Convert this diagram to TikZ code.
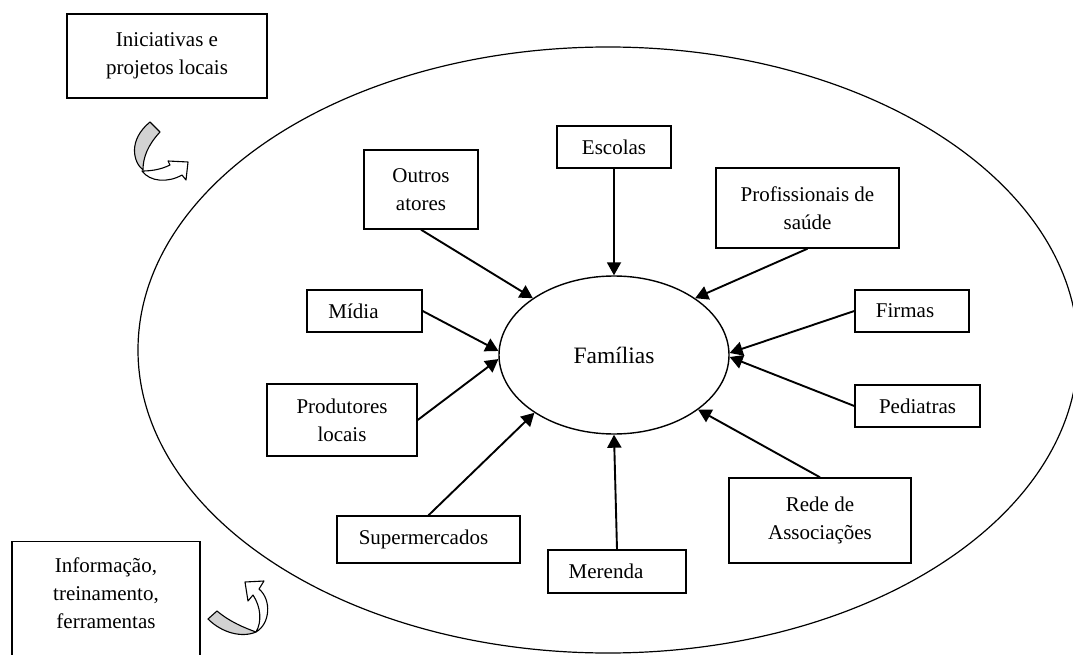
\documentclass[tikz,border=0pt]{standalone}
\usepackage{fontspec}
\setmainfont{Liberation Serif}
\usetikzlibrary{arrows.meta,shapes.geometric}
\begin{document}
\begin{tikzpicture}[x=1pt,y=-1pt,
  every node/.style={font=\fontsize{21}{28}\selectfont},
  box/.style={draw,line width=1.4pt,inner sep=0pt,align=center},
  hub/.style={draw,ellipse,line width=1.4pt,inner sep=0pt,font=\fontsize{23.5}{28}\selectfont},
  link/.style={line width=1.9pt,-{Triangle[length=13pt,width=14pt]}},
  band/.style={draw,line width=1.1pt,line join=round,fill=gray!35},
  shaft/.style={draw,line width=1.1pt,line join=round,fill=white}]
\useasboundingbox (0,0) rectangle (1073,655);

% outer boundary
\draw[line width=1.2pt] (608,350) ellipse [x radius=470pt, y radius=303pt];

% central node
\node[hub, minimum width=230pt, minimum height=158pt] (fam) at (614,355) {Famílias};

% actors
\node[box, minimum width=200pt, minimum height=84pt] (init) at (167,56) {Iniciativas e\\projetos locais};
\node[box, minimum width=188pt, minimum height=131pt, anchor=north] (info) at (106,541) {Informação,\\treinamento,\\ferramentas\\\mbox{}};
\node[box, minimum width=114pt, minimum height=79pt] (outros) at (421,189.5) {Outros\\atores};
\node[box, minimum width=114pt, minimum height=42pt] (escolas) at (614,147) {Escolas};
\node[box, minimum width=183pt, minimum height=80pt] (prof) at (807.5,208) {Profissionais de\\saúde};
\node[box, minimum width=115pt, minimum height=42pt] (midia) at (364.5,311) {\hspace*{-22pt}Mídia};
\node[box, minimum width=150pt, minimum height=72pt] (prod) at (342,420) {Produtores\\locais};
\node[box, minimum width=114pt, minimum height=42pt] (firmas) at (912,311) {\hspace*{-14pt}Firmas};
\node[box, minimum width=125pt, minimum height=42pt] (pedi) at (917.5,406) {Pediatras};
\node[box, minimum width=182pt, minimum height=85pt] (rede) at (820,520.5) {Rede de\\Associações};
\node[box, minimum width=183pt, minimum height=47pt] (super) at (428.5,539.5) {\hspace*{-10pt}Supermercados};
\node[box, minimum width=138pt, minimum height=43pt] (merenda) at (617,571.5) {\hspace*{-22pt}Merenda};

% influences on the families
\draw[link] (outros.south) -- (fam.145);
\draw[link] (escolas.south) -- (fam.north);
\draw[link] (prof.south) -- (fam.35);
\draw[link] (firmas.west) -- (fam.1);
\draw[link] (pedi.west) -- (fam.-1);
\draw[link] (rede.north) -- (fam.-33);
\draw[link] (merenda.north) -- (fam.south);
\draw[link] (super.north) -- (fam.-144);
\draw[link] (prod.east) -- (fam.182);
\draw[link] (midia.east) -- (fam.178);

% curved arrow below the upper box
\draw[shaft] (142,171) .. controls (150,171) and (160,170) .. (170,165) -- (168,161) -- (188,162) -- (186,180) -- (182,175) .. controls (168,183) and (150,182) .. (142,171) -- cycle;
\draw[band] (150,122) -- (160,132) .. controls (148,145) and (143,157) .. (143,170) .. controls (133,162) and (128,140) .. (150,122) -- cycle;

% curved arrow beside the lower box
\draw[shaft] (256,632) .. controls (270,624) and (272,600) .. (259,589) -- (264,581) -- (245,582) -- (248,601) -- (253,595) .. controls (261,607) and (262,622) .. (256,632) -- cycle;
\draw[band] (217,611) -- (208,619) .. controls (222,633) and (242,638) .. (256,632) .. controls (245,628) and (230,622) .. (217,611) -- cycle;
\end{tikzpicture}
\end{document}
